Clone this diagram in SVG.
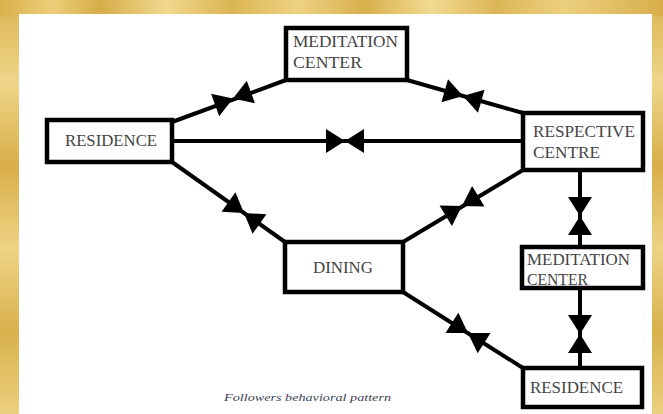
<svg xmlns="http://www.w3.org/2000/svg" width="663" height="414" viewBox="0 0 663 414">
  <defs>
    <linearGradient id="goldH" x1="0" y1="0" x2="1" y2="0">
      <stop offset="0" stop-color="#d9b04a"/>
      <stop offset="0.08" stop-color="#eccf7a"/>
      <stop offset="0.15" stop-color="#d6ad48"/>
      <stop offset="0.25" stop-color="#f0d88e"/>
      <stop offset="0.35" stop-color="#dbb552"/>
      <stop offset="0.45" stop-color="#edd283"/>
      <stop offset="0.55" stop-color="#d8b04c"/>
      <stop offset="0.65" stop-color="#f1da92"/>
      <stop offset="0.75" stop-color="#dcb656"/>
      <stop offset="0.85" stop-color="#ecd07f"/>
      <stop offset="1" stop-color="#d7ae4a"/>
    </linearGradient>
    <linearGradient id="goldV" x1="0" y1="0" x2="0" y2="1">
      <stop offset="0" stop-color="#dcb452"/>
      <stop offset="0.2" stop-color="#efd689"/>
      <stop offset="0.4" stop-color="#d8ae48"/>
      <stop offset="0.6" stop-color="#eed385"/>
      <stop offset="0.8" stop-color="#d9b14c"/>
      <stop offset="1" stop-color="#ecd07e"/>
    </linearGradient>
    <g id="bowtie">
      <polygon points="-19,-12 -19,12 0,0"/>
      <polygon points="19,-12 19,12 0,0"/>
    </g>
    <style>
      .box { fill: #ffffff; stroke: #000000; stroke-width: 4.5; }
      .lbl { font-family: "Liberation Serif", "Times New Roman", serif; font-size: 16px; fill: #444444; }
      .edge { stroke: #000000; stroke-width: 4; fill: none; }
      .tie { fill: #000000; }
      .cap { font-family: "Liberation Serif", "Times New Roman", serif; font-style: italic; font-size: 11px; fill: #3a3f55; }
    </style>
  </defs>

  <!-- background -->
  <rect x="0" y="0" width="663" height="414" fill="url(#goldV)"/>
  <rect x="0" y="0" width="663" height="16" fill="url(#goldH)"/>
  <rect x="19" y="14" width="633" height="400" fill="#ffffff"/>

  <g id="connectors">
    <line class="edge" x1="172" y1="122" x2="286" y2="80"/>
    <line class="edge" x1="407" y1="80" x2="523" y2="113"/>
    <line class="edge" x1="172" y1="141" x2="523" y2="141"/>
    <line class="edge" x1="172" y1="162" x2="285" y2="242"/>
    <line class="edge" x1="403" y1="242" x2="523" y2="170"/>
    <line class="edge" x1="403" y1="292" x2="523" y2="368"/>
    <line class="edge" x1="580" y1="170" x2="580" y2="247"/>
    <line class="edge" x1="580" y1="288" x2="580" y2="368"/>
    <use href="#bowtie" class="tie" transform="translate(233,98.5) rotate(-19.8)"/>
    <use href="#bowtie" class="tie" transform="translate(463,96) rotate(15.9)"/>
    <use href="#bowtie" class="tie" transform="translate(345,141)"/>
    <use href="#bowtie" class="tie" transform="translate(244,213) rotate(35.3)"/>
    <use href="#bowtie" class="tie" transform="translate(462,206) rotate(-31)"/>
    <use href="#bowtie" class="tie" transform="translate(468,333) rotate(32.3)"/>
    <use href="#bowtie" class="tie" transform="translate(580,216) rotate(90)"/>
    <use href="#bowtie" class="tie" transform="translate(580,334) rotate(90)"/>
  </g>

  <g id="meditation-top">
    <rect class="box" x="286" y="28" width="121" height="52"/>
    <text class="lbl" x="293" y="47" textLength="105" lengthAdjust="spacingAndGlyphs">MEDITATION</text>
    <text class="lbl" x="293" y="68" textLength="69" lengthAdjust="spacingAndGlyphs">CENTER</text>
  </g>

  <g id="residence-left">
    <rect class="box" x="47" y="120" width="125" height="42"/>
    <text class="lbl" x="65" y="146" textLength="92" lengthAdjust="spacingAndGlyphs">RESIDENCE</text>
  </g>

  <g id="respective-centre">
    <rect class="box" x="523" y="113" width="120" height="57"/>
    <text class="lbl" x="533" y="137" textLength="102" lengthAdjust="spacingAndGlyphs">RESPECTIVE</text>
    <text class="lbl" x="533" y="158" textLength="67" lengthAdjust="spacingAndGlyphs">CENTRE</text>
  </g>

  <g id="dining">
    <rect class="box" x="285" y="242" width="118" height="50"/>
    <text class="lbl" x="313" y="273" textLength="60" lengthAdjust="spacingAndGlyphs">DINING</text>
  </g>

  <g id="meditation-right">
    <rect class="box" x="522" y="247" width="121" height="41"/>
    <text class="lbl" x="527" y="265" textLength="103" lengthAdjust="spacingAndGlyphs">MEDITATION</text>
    <text class="lbl" x="527" y="285" textLength="61" lengthAdjust="spacingAndGlyphs">CENTER</text>
  </g>

  <g id="residence-bottom">
    <rect class="box" x="523" y="368" width="119" height="39"/>
    <text class="lbl" x="530" y="393" textLength="93" lengthAdjust="spacingAndGlyphs">RESIDENCE</text>
  </g>

  <text class="cap" x="224" y="401" textLength="167" lengthAdjust="spacingAndGlyphs">Followers behavioral pattern</text>
</svg>
